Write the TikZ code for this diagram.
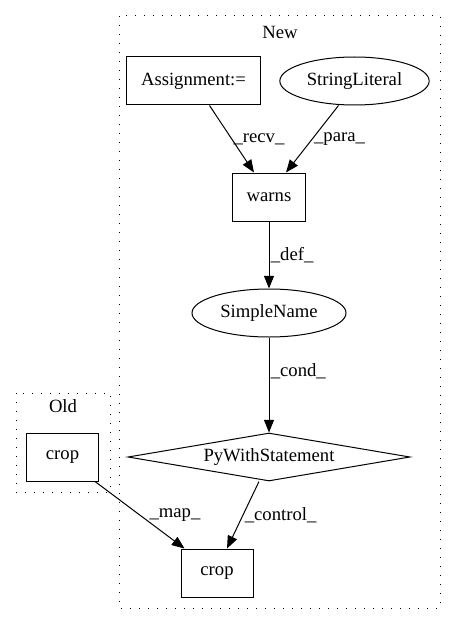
\documentclass[tikz,border=0pt]{standalone}
\usepackage{fontspec}
\setmainfont{Liberation Serif}
\usetikzlibrary{shapes.geometric, arrows.meta, calc}
\begin{document}
\begin{tikzpicture}[x=0.75pt, y=-0.75pt, font=\fontsize{14}{16}\selectfont]
\tikzstyle{box}=[draw, rectangle, line width=0.75pt, minimum width=54pt, minimum height=36pt, inner xsep=11pt]
\tikzstyle{oval}=[draw, ellipse, line width=0.75pt, minimum height=36pt, inner sep=0pt]
\tikzstyle{decision}=[draw, diamond, line width=0.75pt, aspect=5.875, minimum width=211.5pt, minimum height=36pt, inner sep=0pt]
\tikzstyle{line}=[draw, -{Triangle[length=9.5pt, width=7.5pt]}, line width=0.75pt]
\tikzstyle{lbl}=[anchor=west, inner sep=1pt]
\tikzstyle{cluster}=[draw, line width=0.75pt, dash pattern=on 0.75pt off 6pt]

\useasboundingbox (0,0) rectangle (456,624);

% Clusters
\draw[cluster] (119,16) rectangle (440,608);
\node (newlbl) at (280,32) {New};
\draw[cluster] (16,393) rectangle (110,492);
\node (oldlbl) at (63,406) {Old};

% Define nodes
\node[box] (assign) at (193.5,81) {Assignment:=};
\node[oval, minimum width=112pt] (strlit) at (354.5,81) {StringLiteral};
\node[box] (warns) at (269,197) {warns};
\node[oval, minimum width=115.5pt] (simplename) at (269,313) {SimpleName};
\node[decision] (pywith) at (269,457) {PyWithStatement};
\node[box] (cropnew) at (217,573) {crop};
\node[box] (cropold) at (62.5,457) {crop};

% Edges
\draw[line] ($(assign.south)+(16,0)$) -- node[lbl, pos=0.5] {\_recv\_} ($(warns.north)+(-15,0)$);
\draw[line] ($(strlit.south)+(-16,0)$) -- node[lbl, pos=0.5] {\_para\_} ($(warns.north)+(17,0)$);
\draw[line] (warns.south) -- node[lbl, pos=0.5] {\_def\_} (simplename.north);
\draw[line] (simplename.south) -- node[lbl, pos=0.35] {\_cond\_} (pywith.north);
\draw[line] ($(pywith.south)+(-10,0)$) -- node[lbl, pos=0.5] {\_control\_} ($(cropnew.north)+(10,0)$);
\draw[line] ($(cropold.south east)+(-4,0)$) -- node[lbl, pos=0.5, xshift=6pt] {\_map\_} ($(cropnew.north west)+(4,0)$);
\end{tikzpicture}
\end{document}
